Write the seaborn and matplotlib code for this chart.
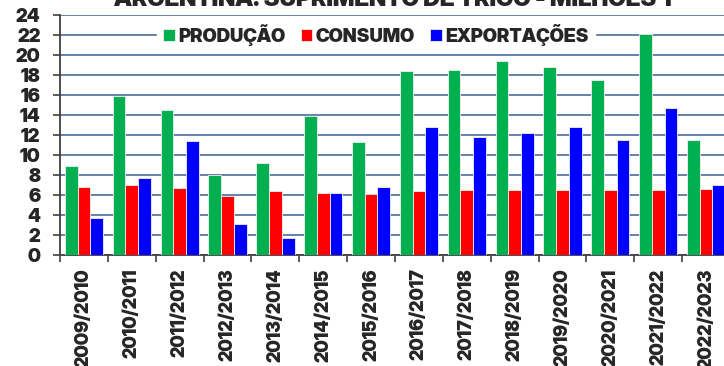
import matplotlib
matplotlib.use("Agg")
import matplotlib.pyplot as plt
import seaborn as sns
import pandas as pd
from matplotlib.ticker import FixedLocator, MultipleLocator

# Argentina wheat supply, million tonnes
safras = ["2009/2010", "2010/2011", "2011/2012", "2012/2013", "2013/2014",
          "2014/2015", "2015/2016", "2016/2017", "2017/2018", "2018/2019",
          "2019/2020", "2020/2021", "2021/2022", "2022/2023"]
producao = [8.9, 15.9, 14.5, 8.0, 9.2, 13.9, 11.3, 18.4, 18.5, 19.4, 18.8, 17.5, 22.1, 11.5]
consumo = [6.8, 7.0, 6.7, 5.9, 6.4, 6.2, 6.1, 6.4, 6.5, 6.5, 6.5, 6.5, 6.5, 6.6]
exportacoes = [3.7, 7.7, 11.4, 3.1, 1.7, 6.2, 6.8, 12.8, 11.8, 12.2, 12.8, 11.5, 14.7, 7.0]
series = ["PRODUÇÃO", "CONSUMO", "EXPORTAÇÕES"]
cores = ["#00B050", "#FF0000", "#0000FF"]
titulo = "ARGENTINA: SUPRIMENTO DE TRIGO - MILHÕES T"

df = pd.DataFrame({
    "safra": safras * 3,
    "serie": [series[0]] * len(safras) + [series[1]] * len(safras) + [series[2]] * len(safras),
    "valor": producao + consumo + exportacoes,
})

sns.set_style("white")
plt.rcParams["font.family"] = ["Inter Display", "Inter", "DejaVu Sans"]
plt.rcParams["font.weight"] = 900

fig = plt.figure(figsize=(7.24, 3.66), dpi=100)
ax = fig.add_axes([60 / 724, 1 - 254.5 / 366, 670 / 724, 240 / 366])

sns.barplot(data=df, x="safra", y="valor", hue="serie", hue_order=series,
            order=safras, palette=cores, saturation=1, width=0.8, gap=0, ax=ax,
            edgecolor="#f0f0f0", linewidth=0.6, errorbar=None, zorder=3)

ax.set_xlim(-0.5, len(safras) - 0.5)
ax.set_ylim(0, 24)
ax.yaxis.set_major_locator(MultipleLocator(2))
ax.grid(axis="y", color="#5A78A5", linewidth=1.3, zorder=0)
ax.set_axisbelow(True)

for s in ["top", "right"]:
    ax.spines[s].set_visible(False)
for s in ["left", "bottom"]:
    ax.spines[s].set_color("#404040")
    ax.spines[s].set_linewidth(1.3)

ax.set_xlabel("")
ax.set_ylabel("")
ax.tick_params(axis="y", which="major", left=True, length=5, width=1.2,
               color="#404040", pad=9, labelsize=13.5)
ax.tick_params(axis="x", which="major", bottom=False, length=0, pad=10,
               labelsize=13)
ax.xaxis.set_minor_locator(FixedLocator([i - 0.5 for i in range(len(safras) + 1)]))
ax.tick_params(axis="x", which="minor", bottom=True, length=5, width=1.2,
               color="#404040")
for lab in ax.get_xticklabels():
    lab.set_rotation(90)
    lab.set_fontweight(900)
for lab in ax.get_yticklabels():
    lab.set_fontweight(900)

leg = ax.legend(loc="center", bbox_to_anchor=(376 / 724, 1 - 35 / 366),
                bbox_transform=fig.transFigure, ncol=3, frameon=True,
                fancybox=False, framealpha=1, facecolor="white",
                edgecolor="white", prop={"weight": 900, "size": 13.5},
                handlelength=0.62, handleheight=0.62, handletextpad=0.2,
                columnspacing=0.8, borderpad=0.3, borderaxespad=0)
leg.set_zorder(5)

fig.text(395 / 724, 1 - 6 / 366, titulo, ha="center", va="baseline",
         fontsize=16.8, fontweight=900)

fig.savefig("out.png", dpi=100)
